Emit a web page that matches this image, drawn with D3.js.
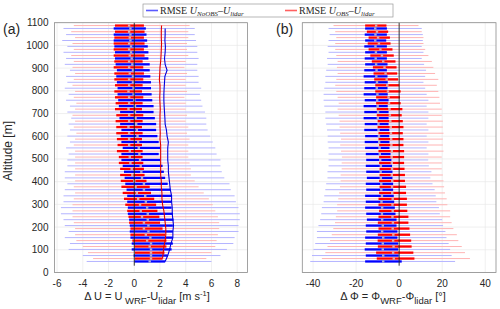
<!DOCTYPE html>
<html>
<head>
<meta charset="utf-8">
<script src="https://cdn.jsdelivr.net/npm/d3@7"></script>
<style>
  body { margin: 0; background: #fff; }
  svg { display: block; font-family: "Liberation Sans", Arial, sans-serif; }
</style>
</head>
<body>
<div id="chartArea"></div>
<script>
// altitude of each lidar level [m]
var altitude = [55, 81, 108, 134, 160, 187, 213, 239, 265, 292, 318, 344, 371, 397, 423, 450, 476, 502, 528, 555,
                581, 607, 634, 660, 686, 713, 739, 765, 791, 818, 844, 870, 897, 923, 949, 976, 1002, 1028, 1054, 1081];

// (a) wind speed error, run without obs nudging (blue)
var uNoObsLo  = [-3.7, -4.0, -5.1, -5.0, -5.4, -5.1, -5.4, -5.5, -5.7, -5.7, -5.5, -5.5, -5.4, -5.2, -5.4, -5.4, -5.2, -5.2, -5.1, -5.3,
                 -5.0, -5.2, -5.0, -5.1, -4.9, -5.2, -5.0, -5.3, -5.1, -5.4, -5.2, -5.3, -5.0, -5.4, -5.3, -5.5, -5.2, -5.6, -5.3, -5.5];
var uNoObsQ1  = [0.0, -0.05, -0.2, -0.2, -0.3, -0.35, -0.35, -0.4, -0.5, -0.5, -0.55, -0.55, -0.6, -0.7, -0.75, -0.8, -0.9, -1.0, -1.0, -0.9,
                 -1.0, -1.05, -1.0, -1.1, -1.15, -1.1, -1.2, -1.25, -1.3, -1.3, -1.35, -1.4, -1.35, -1.45, -1.5, -1.5, -1.55, -1.6, -1.6, -1.6];
var uNoObsMed = [1.2, 1.3, 1.3, 1.3, 1.25, 1.1, 1.1, 1.05, 1.05, 1.0, 0.9, 0.85, 0.75, 0.75, 0.6, 0.55, 0.5, 0.45, 0.4, 0.35,
                 0.3, 0.25, 0.2, 0.15, 0.1, 0.05, 0.05, 0.0, -0.05, -0.05, -0.1, -0.1, -0.1, -0.15, -0.2, -0.25, -0.25, -0.3, -0.3, -0.3];
var uNoObsQ3  = [2.4, 2.6, 2.9, 3.0, 3.0, 3.0, 3.0, 3.05, 3.0, 2.9, 2.9, 2.9, 2.8, 2.6, 2.4, 2.3, 2.2, 2.0, 1.9, 2.0,
                 1.9, 1.8, 1.7, 1.7, 1.6, 1.5, 1.5, 1.4, 1.35, 1.3, 1.3, 1.25, 1.2, 1.2, 1.1, 1.1, 1.05, 1.0, 0.95, 0.9];
var uNoObsHi  = [6.0, 6.7, 7.2, 7.7, 7.8, 8.1, 8.1, 8.2, 8.2, 8.1, 7.9, 7.8, 7.5, 7.4, 7.0, 6.8, 6.7, 6.7, 6.4, 6.3,
                 6.1, 5.9, 5.7, 5.6, 5.6, 5.5, 5.3, 5.2, 5.1, 5.2, 5.0, 5.0, 4.9, 4.9, 5.0, 4.9, 4.9, 4.8, 4.7, 4.7];
var rmseNoObs = [2.4, 2.6, 2.75, 2.85, 3.0, 3.0, 3.05, 3.0, 2.95, 2.95, 2.9, 2.9, 2.8, 2.75, 2.7, 2.65, 2.65, 2.6, 2.6, 2.6,
                 2.65, 2.55, 2.5, 2.4, 2.38, 2.35, 2.32, 2.3, 2.3, 2.32, 2.35, 2.38, 2.55, 2.4, 2.35, 2.4, 2.42, 2.38, 2.4, 2.4];

// (a) wind speed error, run with obs nudging (red)
var uObsLo  = [-3.2, -3.6, -4.0, -4.5, -4.6, -4.6, -4.7, -4.8, -4.8, -4.8, -4.7, -4.6, -4.7, -4.6, -4.6, -4.6, -4.6, -4.6, -4.6, -4.7,
               -4.6, -4.5, -4.7, -4.6, -4.8, -4.6, -4.5, -4.7, -4.6, -4.8, -4.7, -4.6, -4.8, -4.7, -4.9, -4.7, -4.8, -4.6, -4.9, -4.7];
var uObsQ1  = [0.05, 0.05, 0.0, -0.15, -0.3, -0.3, -0.4, -0.45, -0.55, -0.7, -0.8, -0.9, -1.0, -1.05, -1.1, -1.1, -1.2, -1.2, -1.35, -1.3,
               -1.35, -1.4, -1.4, -1.45, -1.4, -1.5, -1.45, -1.5, -1.55, -1.5, -1.55, -1.55, -1.6, -1.55, -1.6, -1.6, -1.6, -1.55, -1.5, -1.5];
var uObsMed = [1.3, 1.3, 1.2, 1.0, 0.9, 0.75, 0.75, 0.6, 0.5, 0.45, 0.3, 0.2, 0.1, 0.0, -0.15, -0.2, -0.3, -0.35, -0.35, -0.4,
               -0.4, -0.4, -0.45, -0.4, -0.4, -0.45, -0.4, -0.4, -0.45, -0.4, -0.4, -0.35, -0.4, -0.4, -0.35, -0.4, -0.4, -0.35, -0.4, -0.4];
var uObsQ3  = [2.2, 2.35, 2.5, 2.5, 2.4, 2.2, 2.0, 1.95, 1.8, 1.7, 1.55, 1.3, 1.2, 0.95, 0.8, 0.75, 0.7, 0.65, 0.65, 0.6,
               0.6, 0.65, 0.6, 0.65, 0.7, 0.6, 0.65, 0.7, 0.6, 0.65, 0.7, 0.75, 0.7, 0.65, 0.8, 0.75, 0.8, 0.75, 0.8, 0.75];
var uObsHi  = [5.6, 6.0, 6.3, 6.4, 6.5, 6.6, 6.6, 6.5, 6.3, 6.1, 5.8, 5.4, 5.0, 4.7, 4.4, 4.4, 4.3, 4.2, 4.2, 4.2,
               4.3, 4.1, 4.2, 4.0, 4.1, 4.0, 4.0, 3.9, 4.1, 4.0, 4.0, 4.1, 3.9, 4.0, 4.2, 4.1, 4.1, 4.2, 4.2, 4.3];
var rmseObs = [2.2, 2.25, 2.3, 2.4, 2.45, 2.45, 2.4, 2.35, 2.3, 2.2, 2.15, 2.15, 2.1, 2.1, 2.05, 2.05, 2.05, 2.05, 2.05, 2.05,
               2.0, 2.02, 2.0, 2.0, 2.0, 2.02, 2.0, 1.98, 2.0, 2.0, 1.95, 1.98, 2.0, 2.05, 2.08, 2.1, 2.12, 2.1, 2.1, 2.12];

// (b) wind direction error [deg], no obs nudging (blue)
var dirNoObsLo  = [-41.3, -40.5, -39.8, -39.0, -38.2, -38.2, -37.5, -36.7, -36.2, -35.9, -35.1, -34.8, -34.3, -33.9, -33.3, -33.3, -32.8, -32.8, -32.8, -32.8,
                   -33.2, -33.2, -33.5, -33.9, -34.3, -34.3, -34.8, -35.1, -35.1, -34.8, -34.3, -34.3, -33.9, -33.2, -33.5, -32.8, -33.2, -32.8, -32.3, -32.8];
var dirNoObsQ1  = [-15.8, -15.5, -16.0, -15.5, -15.8, -15.3, -15.5, -15.0, -15.3, -15.8, -15.5, -15.8, -15.3, -15.5, -15.0, -15.3, -15.5, -15.3, -15.5, -15.8,
                   -16.0, -15.8, -16.2, -16.0, -16.5, -16.2, -16.5, -16.0, -16.5, -16.2, -16.0, -16.5, -16.2, -15.8, -16.0, -15.8, -16.2, -15.8, -16.0, -15.8];
var dirNoObsMed = [-7.4, -7.4, -7.6, -7.6, -7.4, -7.9, -7.6, -7.9, -8.0, -7.9, -8.2, -8.0, -8.3, -8.3, -8.5, -8.6, -8.5, -8.8, -9.0, -9.1,
                   -9.3, -9.4, -9.6, -9.6, -9.9, -9.8, -10.0, -10.2, -10.1, -10.4, -10.3, -10.6, -10.5, -10.7, -10.9, -10.8, -11.0, -11.1, -11.0, -11.1];
var dirNoObsQ3  = [1.2, -0.2, -0.5, -0.5, -0.8, -0.8, -1.2, -1.2, -1.7, -2.0, -2.3, -2.5, -2.8, -2.8, -3.1, -3.1, -3.3, -3.6, -4.0, -4.5,
                   -4.5, -4.6, -4.6, -4.9, -4.9, -4.9, -5.3, -4.9, -5.3, -5.4, -5.3, -5.4, -5.7, -5.4, -5.7, -5.7, -5.7, -6.0, -5.7, -5.7];
var dirNoObsHi  = [26.0, 24.4, 23.7, 23.0, 22.0, 21.5, 20.4, 20.0, 18.9, 18.5, 17.3, 17.0, 16.5, 15.5, 14.5, 15.0, 13.8, 13.5, 13.6, 12.8,
                   13.6, 12.8, 13.6, 12.8, 13.6, 13.6, 12.8, 13.6, 12.8, 12.1, 11.3, 12.1, 12.5, 11.6, 10.5, 11.3, 10.5, 11.0, 11.0, 10.5];

// (b) wind direction error [deg], with obs nudging (red)
var dirObsLo  = [-35.9, -34.3, -33.3, -32.1, -31.3, -30.6, -29.8, -29.4, -28.8, -28.8, -28.3, -27.9, -27.5, -27.2, -27.2, -26.7, -26.7, -26.6, -27.0, -27.4,
                 -27.0, -27.4, -27.7, -27.7, -28.1, -28.6, -28.1, -28.6, -29.2, -29.7, -29.2, -28.6, -28.9, -28.6, -29.2, -29.7, -29.7, -29.2, -29.7, -30.5];
var dirObsQ1  = [-10.4, -10.7, -9.9, -10.0, -9.9, -9.6, -9.9, -9.6, -9.3, -9.6, -9.6, -9.3, -9.1, -9.3, -9.1, -9.1, -9.3, -9.3, -9.6, -9.3,
                 -9.6, -9.6, -10.0, -10.0, -10.4, -10.4, -10.7, -10.7, -11.1, -11.1, -11.6, -11.9, -12.2, -12.7, -13.4, -14.2, -14.6, -14.2, -15.0, -15.8];
var dirObsMed = [-2.5, -2.8, -2.6, -2.8, -2.7, -3.0, -2.9, -3.1, -3.0, -3.1, -3.0, -3.2, -3.3, -3.2, -3.4, -3.3, -3.4, -3.5, -3.4, -3.6,
                 -3.7, -3.8, -3.9, -4.1, -4.3, -4.5, -4.7, -4.9, -5.2, -5.5, -5.8, -6.3, -6.8, -7.4, -8.0, -8.7, -9.4, -9.8, -10.3, -10.7];
var dirObsQ3  = [7.1, 6.6, 5.8, 5.6, 5.1, 4.8, 4.3, 4.3, 3.8, 3.6, 3.6, 3.2, 3.2, 2.7, 2.7, 2.5, 2.3, 2.3, 2.3, 2.0,
                 2.0, 1.7, 2.0, 1.7, 1.2, 1.5, 0.7, 0.4, 0.7, 0.1, -0.5, -0.9, -1.2, -1.7, -2.5, -3.1, -4.0, -4.3, -5.1, -5.9];
var dirObsHi  = [32.9, 30.6, 29.1, 27.5, 26.8, 25.2, 24.4, 23.7, 23.7, 22.4, 22.1, 21.3, 20.9, 20.6, 20.3, 19.8, 19.8, 19.8, 20.6, 20.3,
                 20.3, 20.6, 20.3, 20.3, 19.8, 19.8, 19.0, 18.7, 18.2, 17.5, 18.2, 16.7, 15.9, 15.2, 13.6, 12.1, 11.3, 11.3, 10.5, 9.0];

// axis ticks
var altTicks = [0, 100, 200, 300, 400, 500, 600, 700, 800, 900, 1000, 1100];
var speedTicks = [-6, -4, -2, 0, 2, 4, 6, 8];
var dirTicks = [-40, -20, 0, 20, 40];

var width = 500, height = 309;
var plotTop = 22.7, plotBottom = 272.5; // "top" is taken by window.top, so don't use it
var dodge = 1.45; // px offset between the two runs at one level

var colBlue = "#0000ff", colBlueLight = "#b4b4ff", colBlueMed = "#a8a8d8";
var colRed = "#ff0000", colRedLight = "#ffb4b4", colRedMed = "#e0a8a8";

var svg = d3.select("#chartArea").append("svg")
    .attr("width", width).attr("height", height);

var y = d3.scaleLinear().domain([0, 1100]).range([plotBottom, plotTop]);

function makeRuns(lo, q1, med, q3, hi) {
    return altitude.map(function (a, i) {
        return { alt: a, lo: lo[i], q1: q1[i], med: med[i], q3: q3[i], hi: hi[i] };
    });
}

function drawPanel(x, ticks, showAltLabels, blueRuns, redRuns, rmse) {
    var g = svg.append("g");
    var x0 = x.range()[0], x1 = x.range()[1];

    // grid
    g.selectAll(null).data(ticks).enter().append("line")
        .attr("x1", function (d) { return x(d); }).attr("x2", function (d) { return x(d); })
        .attr("y1", plotTop).attr("y2", plotBottom)
        .attr("stroke", "#e6e6e6").attr("stroke-width", 0.6);
    g.selectAll(null).data(altTicks).enter().append("line")
        .attr("x1", x0).attr("x2", x1)
        .attr("y1", function (d) { return y(d); }).attr("y2", function (d) { return y(d); })
        .attr("stroke", "#e6e6e6").attr("stroke-width", 0.6);

    var series = [
        { runs: blueRuns, off: dodge, light: colBlueLight, dark: colBlue, med: colBlueMed },
        { runs: redRuns, off: -dodge, light: colRedLight, dark: colRed, med: colRedMed }
    ];

    // whiskers first, so the boxes sit on top of them
    series.forEach(function (s) {
        g.selectAll(null).data(s.runs).enter().append("line")
            .attr("x1", function (d) { return x(d.lo); }).attr("x2", function (d) { return x(d.hi); })
            .attr("y1", function (d) { return y(d.alt) + s.off; }).attr("y2", function (d) { return y(d.alt) + s.off; })
            .attr("stroke", s.light).attr("stroke-width", 1);
    });
    series.forEach(function (s) {
        g.selectAll(null).data(s.runs).enter().append("rect")
            .attr("x", function (d) { return x(d.q1); })
            .attr("width", function (d) { return Math.max(0.5, x(d.q3) - x(d.q1)); })
            .attr("y", function (d) { return y(d.alt) + s.off - 1.15; })
            .attr("height", 2.3)
            .attr("fill", s.dark);
        g.selectAll(null).data(s.runs).enter().append("rect")
            .attr("x", function (d) { return x(d.med) - 1.2; })
            .attr("width", 2.4)
            .attr("y", function (d) { return y(d.alt) + s.off - 1.15; })
            .attr("height", 2.3)
            .attr("fill", s.med);
    });

    // zero line
    g.append("line")
        .attr("x1", x(0)).attr("x2", x(0)).attr("y1", y(30)).attr("y2", plotTop)
        .attr("stroke", "#222").attr("stroke-width", 0.9);

    // rmse profiles
    if (rmse) {
        rmse.forEach(function (r) {
            var line = d3.line()
                .x(function (d) { return x(d); })
                .y(function (d, i) { return y(altitude[i]) + r.off; });
            g.append("path").datum(r.values)
                .attr("d", line).attr("fill", "none")
                .attr("stroke", r.color).attr("stroke-width", 1.1);
        });
    }

    // box
    g.append("rect")
        .attr("x", x0).attr("y", plotTop).attr("width", x1 - x0).attr("height", plotBottom - plotTop)
        .attr("fill", "none").attr("stroke", "#8c8c8c").attr("stroke-width", 0.8);

    // tick labels
    g.selectAll(null).data(ticks).enter().append("text")
        .attr("x", function (d) { return x(d); }).attr("y", plotBottom + 14)
        .attr("text-anchor", "middle").attr("font-size", 10).attr("fill", "#262626")
        .text(function (d) { return d; });
    if (showAltLabels) {
        g.selectAll(null).data(altTicks).enter().append("text")
            .attr("x", x0 - 6).attr("y", function (d) { return y(d) + 3.5; })
            .attr("text-anchor", "end").attr("font-size", 10).attr("fill", "#262626")
            .text(function (d) { return d; });
    }
    return g;
}

// panel (a)
var xa = d3.scaleLinear().domain([-6.2, 8.8]).range([54.5, 247.5]);
drawPanel(xa, speedTicks, true,
    makeRuns(uNoObsLo, uNoObsQ1, uNoObsMed, uNoObsQ3, uNoObsHi),
    makeRuns(uObsLo, uObsQ1, uObsMed, uObsQ3, uObsHi),
    [{ values: rmseNoObs, color: "#0000dd", off: dodge }, { values: rmseObs, color: "#dd0000", off: -dodge }]);

// panel (b)
var xb = d3.scaleLinear().domain([-45, 45]).range([302.3, 496]);
drawPanel(xb, dirTicks, false,
    makeRuns(dirNoObsLo, dirNoObsQ1, dirNoObsMed, dirNoObsQ3, dirNoObsHi),
    makeRuns(dirObsLo, dirObsQ1, dirObsMed, dirObsQ3, dirObsHi),
    null);

// panel letters
svg.append("text").attr("x", 3).attr("y", 34).attr("font-size", 14).attr("fill", "#262626").text("(a)");
svg.append("text").attr("x", 276).attr("y", 34).attr("font-size", 14).attr("fill", "#262626").text("(b)");

// y label
svg.append("text")
    .attr("transform", "translate(12,151) rotate(-90)")
    .attr("text-anchor", "middle").attr("font-size", 12).attr("fill", "#262626")
    .text("Altitude [m]");

// x titles
var ta = svg.append("text").attr("x", 147).attr("y", 300).attr("text-anchor", "middle")
    .attr("font-size", 11).attr("fill", "#262626");
ta.append("tspan").text("\u0394 U = U");
ta.append("tspan").attr("dy", 4).attr("font-size", 9.5).text(" WRF");
ta.append("tspan").attr("dy", -4).text("-U");
ta.append("tspan").attr("dy", 4).attr("font-size", 9.5).text("lidar");
ta.append("tspan").attr("dy", -4).text("  [m s");
ta.append("tspan").attr("dy", -4).attr("font-size", 7.5).text("-1");
ta.append("tspan").attr("dy", 4).text("]");

var tb = svg.append("text").attr("x", 393).attr("y", 300).attr("text-anchor", "middle")
    .attr("font-size", 11).attr("fill", "#262626");
tb.append("tspan").text("\u0394 \u03a6 =  \u03a6");
tb.append("tspan").attr("dy", 4).attr("font-size", 9.5).text("WRF");
tb.append("tspan").attr("dy", -4).text("-\u03a6");
tb.append("tspan").attr("dy", 4).attr("font-size", 9.5).text("lidar");
tb.append("tspan").attr("dy", -4).text(" [\u00b0]");

// legend
var lg = svg.append("g");
lg.append("rect").attr("x", 143).attr("y", 4).attr("width", 250).attr("height", 13)
    .attr("fill", "#fff").attr("stroke", "#999").attr("stroke-width", 0.7);
function legendEntry(x0, color, run) {
    lg.append("line").attr("x1", x0).attr("x2", x0 + 12).attr("y1", 10.5).attr("y2", 10.5)
        .attr("stroke", color).attr("stroke-width", 1.6);
    var t = lg.append("text").attr("x", x0 + 14).attr("y", 14)
        .attr("font-family", "'Liberation Serif', 'Times New Roman', serif")
        .attr("font-size", 10).attr("fill", "#262626");
    t.append("tspan").text("RMSE ");
    t.append("tspan").attr("font-style", "italic").text("U");
    t.append("tspan").attr("font-style", "italic").attr("font-size", 7).attr("dy", 1.5).text(run);
    t.append("tspan").attr("dy", -1.5).text("\u2013");
    t.append("tspan").attr("font-style", "italic").text("U");
    t.append("tspan").attr("font-style", "italic").attr("font-size", 7).attr("dy", 1.5).text("lidar");
}
legendEntry(146, "#5a5aff", "NoOBS");
legendEntry(285, "#ff6060", "OBS");
</script>
</body>
</html>
